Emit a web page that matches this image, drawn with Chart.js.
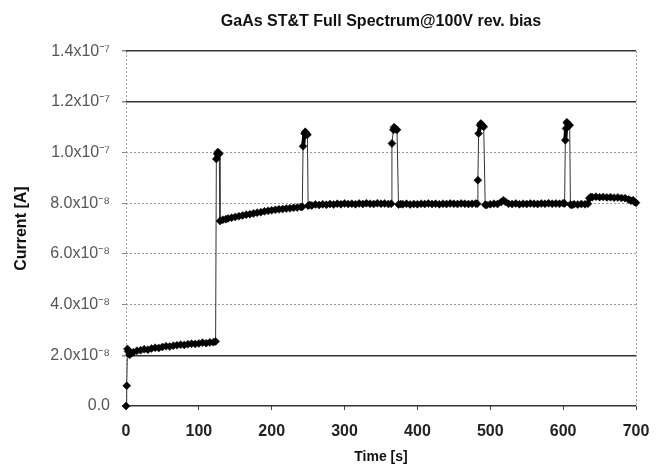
<!DOCTYPE html>
<html>
<head>
<meta charset="utf-8">
<script src="https://cdn.jsdelivr.net/npm/chart.js@4.4.1/dist/chart.umd.min.js"></script>
<style>
  html, body { margin: 0; padding: 0; background: #fff; }
  canvas { display: block; }
</style>
</head>
<body>
<canvas id="chart" width="662" height="466"></canvas>
<script>
// current values are in units of 1e-8 A, pairs are [time s, current]
const startRamp = [
  [0, 0], [1, 0.8], [2, 2.25], [3, 2.15], [5, 2.02], [7, 2.08], [10, 2.12], [15, 2.18],
  [20, 2.2], [25, 2.24], [30, 2.22], [35, 2.27], [40, 2.3], [45, 2.29], [50, 2.33],
  [55, 2.36], [60, 2.35], [65, 2.38], [70, 2.4], [75, 2.42], [80, 2.41], [85, 2.44],
  [90, 2.46], [95, 2.45], [100, 2.47], [105, 2.5], [110, 2.48], [115, 2.51], [120, 2.52],
  [123, 2.55],
];
const spike1 = [[124, 9.75], [125, 9.95], [126, 10.02], [127, 9.92], [128, 9.96]];
const plateau1 = [
  [129, 7.3], [133, 7.35], [137, 7.37], [140, 7.4], [145, 7.43], [150, 7.46], [155, 7.49],
  [160, 7.52], [165, 7.55], [170, 7.57], [175, 7.6], [180, 7.63], [185, 7.65], [190, 7.68],
  [195, 7.7], [200, 7.72], [205, 7.74], [210, 7.76], [215, 7.77], [220, 7.79], [225, 7.8],
  [230, 7.82], [235, 7.83], [240, 7.85], [242, 7.86],
];
const spike2 = [[243, 10.25], [245, 10.75], [246, 10.82], [247, 10.76], [248, 10.72], [249, 10.7]];
const plateau2 = [
  [250, 7.9], [252, 7.93], [255, 7.91], [260, 7.95], [265, 7.93], [270, 7.96], [275, 7.94],
  [280, 7.97], [285, 7.95], [290, 7.98], [295, 7.96], [300, 7.99], [305, 7.97], [310, 7.98],
  [315, 7.96], [320, 7.99], [325, 7.97], [330, 8.0], [335, 7.98], [340, 7.97], [345, 8.0],
  [350, 7.98], [355, 7.99], [360, 7.97], [364, 7.98],
];
const spike3 = [[365, 10.36], [367, 10.9], [368, 11.0], [369, 10.96], [370, 10.92], [372, 10.9]];
const plateau3 = [
  [374, 7.95], [377, 7.97], [380, 7.96], [385, 7.98], [390, 7.95], [395, 7.97], [400, 7.96],
  [405, 7.98], [410, 7.97], [415, 7.99], [420, 7.97], [425, 7.98], [430, 7.96], [435, 7.98],
  [440, 7.97], [445, 7.99], [450, 7.98], [455, 7.97], [460, 7.99], [465, 7.98], [470, 7.97],
  [475, 7.98], [480, 7.99], [482, 7.98],
];
const spike4 = [[483, 8.91], [484, 10.75], [486, 11.08], [487, 11.15], [488, 11.1], [489, 11.06], [491, 11.02]];
const plateau4 = [
  [493, 7.94], [495, 7.93], [500, 7.96], [505, 7.98], [510, 7.97], [515, 8.05], [518, 8.12],
  [521, 8.05], [525, 7.98], [530, 7.97], [535, 7.99], [540, 7.96], [545, 7.98], [550, 7.97],
  [555, 7.99], [560, 7.98], [565, 7.97], [570, 7.99], [575, 7.98], [580, 8.0], [585, 7.98],
  [590, 7.99], [595, 7.98], [600, 8.0], [602, 7.99],
];
const spike5 = [[603, 10.49], [604, 10.95], [605, 11.2], [606, 11.15], [607, 11.12], [609, 11.08]];
const tail = [
  [610, 7.95], [612, 7.93], [615, 7.96], [620, 7.95], [625, 7.97], [630, 7.96], [634, 7.98],
  [636, 8.2], [638, 8.25], [640, 8.24], [645, 8.26], [650, 8.24], [655, 8.25], [660, 8.23],
  [665, 8.24], [670, 8.22], [675, 8.23], [680, 8.21], [685, 8.2], [690, 8.15], [693, 8.1],
  [696, 8.12], [698, 8.05], [700, 8.02],
];

const yTickLabels = ['0.0', '2.0x10⁻⁸', '4.0x10⁻⁸', '6.0x10⁻⁸', '8.0x10⁻⁸', '1.0x10⁻⁷', '1.2x10⁻⁷', '1.4x10⁻⁷'];
const xTicks = [0, 100, 200, 300, 400, 500, 600, 700];

const series = [
  ...startRamp, ...spike1, ...plateau1, ...spike2, ...plateau2, ...spike3,
  ...plateau3, ...spike4, ...plateau4, ...spike5, ...tail,
].map(([x, y]) => ({ x, y }));

// solid dark grid lines at these values, the rest dotted grey
const darkLines = [0, 2, 12, 14];
const isDark = (ctx) => ctx.tick && darkLines.includes(ctx.tick.value);
const isEdge = (ctx) => ctx.tick && (ctx.tick.value === 0 || ctx.tick.value === 700);
// the dense noisy sampling shows as a thick band, jumps stay thin
const isJump = (ctx) => Math.abs(ctx.p1.parsed.y - ctx.p0.parsed.y) > 0.5;

const font = "'Liberation Sans', Arial, sans-serif";

new Chart(document.getElementById('chart'), {
  type: 'scatter',
  data: {
    datasets: [
      {
        data: series,
        showLine: true,
        borderColor: '#222',
        borderWidth: 1,
        borderJoinStyle: 'round',
        borderCapStyle: 'round',
        segment: {
          borderWidth: (ctx) => (isJump(ctx) ? 1 : 4),
          borderColor: (ctx) => (isJump(ctx) ? '#333' : '#000'),
        },
        pointStyle: 'rectRot',
        pointRadius: 4,
        pointBackgroundColor: '#000',
        pointBorderColor: '#000',
        pointBorderWidth: 0.5,
        tension: 0,
        clip: false,
      },
    ],
  },
  options: {
    responsive: false,
    devicePixelRatio: 1,
    animation: false,
    layout: { padding: { left: 0, right: 26, top: 0, bottom: 0 } },
    plugins: {
      legend: { display: false },
      tooltip: { enabled: false },
      title: {
        display: true,
        fullSize: false,
        text: 'GaAs ST&T Full Spectrum@100V rev. bias',
        color: '#111',
        font: { family: font, size: 16, weight: 'bold' },
        padding: { top: 12, bottom: 20 },
      },
    },
    scales: {
      x: {
        type: 'linear',
        min: 0,
        max: 700,
        afterFit: (scale) => { scale.height = 60; },
        afterBuildTicks: (scale) => { scale.ticks = xTicks.map((v) => ({ value: v })); },
        border: { display: false, dash: (ctx) => (ctx.tick ? [2, 2] : []) },
        grid: {
          drawOnChartArea: true,
          color: (ctx) => (isEdge(ctx) ? '#999' : 'rgba(0,0,0,0)'),
          tickColor: '#444',
          tickLength: 4,
        },
        ticks: {
          color: '#222',
          padding: 12,
          maxRotation: 0,
          font: { family: font, size: 16, weight: 'bold' },
        },
        title: {
          display: true,
          text: 'Time [s]',
          color: '#111',
          font: { family: font, size: 14, weight: 'bold' },
          padding: { top: 0, bottom: 0 },
        },
      },
      y: {
        min: 0,
        max: 14,
        afterFit: (scale) => { scale.width = 126; },
        ticks: {
          stepSize: 2,
          color: '#555',
          padding: 12,
          font: { family: font, size: 16 },
          callback: (value) => yTickLabels[Math.round(value / 2)],
        },
        border: { display: false, dash: (ctx) => (ctx.tick && !isDark(ctx) ? [2, 2] : []) },
        grid: {
          color: (ctx) => (isDark(ctx) ? '#333' : '#999'),
          lineWidth: (ctx) => (isDark(ctx) ? 1.5 : 1),
          tickColor: '#888',
          tickLength: 4,
        },
        title: {
          display: true,
          text: 'Current [A]',
          color: '#111',
          font: { family: font, size: 16, weight: 'bold' },
          padding: { top: 12, bottom: 0 },
        },
      },
    },
  },
});
</script>
</body>
</html>
